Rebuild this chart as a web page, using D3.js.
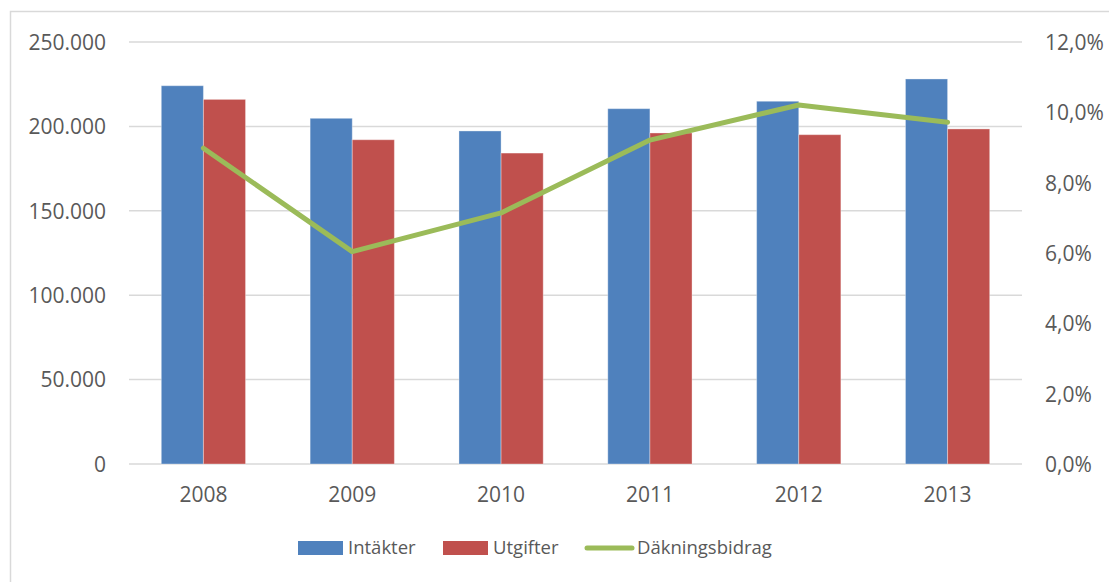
<!DOCTYPE html>
<html><head><meta charset="utf-8">
<script src="https://cdn.jsdelivr.net/npm/d3@7"></script>
<style>body{margin:0;background:#fff}svg{display:block}text{font-family:"Open Sans",sans-serif;fill:#595959}</style>
</head><body><svg id="c" width="1109" height="582"></svg>
<script>
const years = ["2008","2009","2010","2011","2012","2013"];
const intakter = [224100, 204800, 197300, 210500, 214900, 228100];
const utgifter = [216000, 192100, 184200, 196100, 195100, 198500];
const dakning = [0.0898, 0.0604, 0.0714, 0.0921, 0.1021, 0.0972];
const leftTicks = [0, 50000, 100000, 150000, 200000, 250000];
const rightTicks = [0, 0.02, 0.04, 0.06, 0.08, 0.10, 0.12];
const seriesNames = ["Intäkter", "Utgifter", "Däkningsbidrag"];
const colors = ["#4F81BD", "#C0504D", "#9BBB59"];

const svg = d3.select("#c");
svg.append("rect").attr("x",10.5).attr("y",11.5).attr("width",1120).attr("height",600)
  .attr("fill","#fff").attr("stroke","#D9D9D9").attr("stroke-width",1.5);

const L = 129, R = 1022, T = 42, B = 464;
const x = d3.scaleBand().domain(years).range([L, R]).paddingInner(0.434).paddingOuter(0.217);
const xs = d3.scaleBand().domain([0,1]).range([0, x.bandwidth()]);
const y = d3.scaleLinear().domain([0, 250000]).range([B, T]);
const y2 = d3.scaleLinear().domain([0, 0.12]).range([B, T]);

svg.append("g").selectAll("line").data(leftTicks).join("line")
  .attr("x1", L).attr("x2", R).attr("y1", d => y(d)).attr("y2", d => y(d))
  .attr("stroke", "#D9D9D9").attr("stroke-width", 1.5);

const fmtL = d => d === 0 ? "0" : d3.format(",")(d).replace(/,/g, ".");
const fmtR = d => d3.format(".1%")(d).replace(".", ",");
const fs = "21px";

const yl = d3.axisLeft(y).tickValues(leftTicks).tickFormat(fmtL).tickSize(0).tickPadding(0);
svg.append("g").attr("transform", `translate(${L-23},0)`).call(yl)
  .call(g => g.select(".domain").remove())
  .selectAll("text").style("font-size",fs).attr("fill","#595959").attr("dy","0.35em");

const yr = d3.axisRight(y2).tickValues(rightTicks).tickFormat(fmtR).tickSize(0).tickPadding(0);
svg.append("g").attr("transform", `translate(${R+23},0)`).call(yr)
  .call(g => g.select(".domain").remove())
  .selectAll("text").style("font-size",fs).attr("fill","#595959").attr("dy","0.35em");

const xa = d3.axisBottom(x).tickSize(0).tickPadding(0);
svg.append("g").attr("transform", `translate(0,${B+31})`).call(xa)
  .call(g => g.select(".domain").remove())
  .selectAll("text").style("font-size",fs).attr("fill","#595959").attr("dy","0.35em");

const grp = svg.append("g");
[intakter, utgifter].forEach((vals, si) => {
  grp.append("g").selectAll("rect").data(vals).join("rect")
    .attr("x", (d,i) => x(years[i]) + xs(si)).attr("width", xs.bandwidth())
    .attr("y", d => y(d)).attr("height", d => B - y(d))
    .attr("fill", colors[si]).attr("stroke", "rgba(255,255,255,0.35)").attr("stroke-width", 1);
});

const line = d3.line().x((d,i) => x(years[i]) + x.bandwidth()/2).y(d => y2(d));
svg.append("path").datum(dakning).attr("d", line).attr("fill","none")
  .attr("stroke", colors[2]).attr("stroke-width", 5).attr("stroke-linecap","round").attr("stroke-linejoin","round");

const lg = svg.append("g");
const ly = 548;
const items = [{x:298, type:"rect"}, {x:443, type:"rect"}, {x:585, type:"line"}];
items.forEach((it, i) => {
  if (it.type === "rect") {
    lg.append("rect").attr("x", it.x).attr("y", ly-7).attr("width", 45).attr("height", 14).attr("fill", colors[i]);
  } else {
    lg.append("line").attr("x1", it.x+2).attr("x2", it.x+47).attr("y1", ly).attr("y2", ly)
      .attr("stroke", colors[i]).attr("stroke-width", 5).attr("stroke-linecap","round");
  }
  lg.append("text").attr("x", it.x + (it.type==="rect"?50:52)).attr("y", ly).attr("dy","0.35em")
    .style("font-size","18.5px").text(seriesNames[i]);
});
</script></body></html>
